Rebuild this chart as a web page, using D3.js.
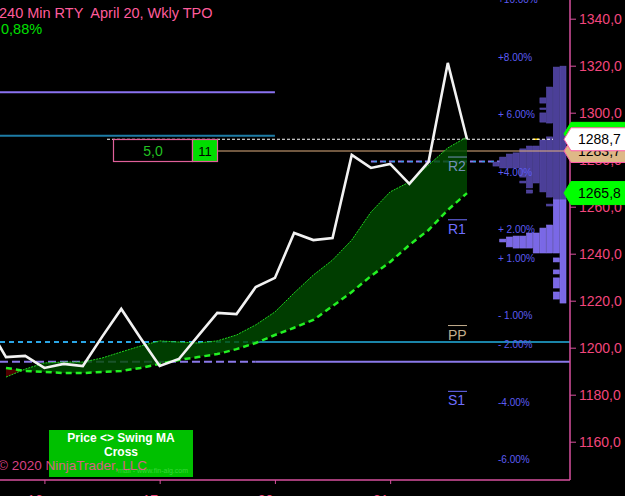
<!DOCTYPE html>
<html>
<head>
<meta charset="utf-8">
<script src="https://cdn.jsdelivr.net/npm/d3@7"></script>
<style>
  body { margin: 0; background: #000; }
  svg { display: block; font-family: Arial, "Liberation Sans", sans-serif; }
</style>
</head>
<body>
<div class="chart"></div>
<script>
// bar index -1..24 (240 min bars), close prices
var barIdx = d3.range(-1, 25);
var closes = [1210, 1196.0, 1196.5, 1191.4, 1193.1, 1192.2, 1204.6, 1216.5, 1204.1, 1192.2, 1195.2, 1205.0,
  1214.8, 1214.3, 1225.8, 1229.7, 1248.8, 1245.8, 1246.7, 1282.0, 1276.5, 1278.2, 1269.7, 1279.1, 1321.2, 1288.7];
// swing MA lines, bars 0..24
var fastMA = [1187.5, 1190.9, 1193.5, 1193.9, 1193.9, 1195.6, 1198.2, 1200.7, 1202.9, 1202.4, 1202.0, 1202.9,
  1205.4, 1209.7, 1215.2, 1223.3, 1230.9, 1237.3, 1245.8, 1257.7, 1266.3, 1270.5, 1277.7, 1285.0, 1289.7];
var slowMA = [1191.4, 1190.1, 1189.7, 1189.2, 1189.2, 1189.7, 1190.1, 1191.4, 1193.1, 1194.8, 1196.0, 1197.3,
  1199.4, 1202.0, 1205.4, 1208.5, 1211.8, 1217.7, 1223.7, 1230.5, 1236.5, 1243.7, 1250.1, 1258.6, 1265.8];

var priceTicks = [1160, 1180, 1200, 1220, 1240, 1260, 1280, 1300, 1320, 1340];
var dayTicks = [2, 8, 14, 20];
var dayLabels = ["16", "17", "20", "21"];

var pctValues = [10, 8, 6, 4, 2, 1, -1, -2, -4, -6];
var pctLabels = ["+10.00%", "+8.00%", "+ 6.00%", "+4.00%", "+ 2.00%", "+ 1.00%", "- 1.00%", "- 2.00%", "-4.00%", "-6.00%"];

var pivotNames = ["R2", "R1", "PP", "S1"];
var pivotLabelPrices = [1277.3, 1250.6, 1205.6, 1177.6];
var pivotColors = ["#7290b8", "#6e6eff", "#c4ae8e", "#6e6eff"];

// TPO profile segments: column, high, low, shade (d = prior / l = current)
var tpoCol = [0, 0, 1, 1, 1, 1, 1, 1, 2, 2, 2, 2, 3, 3, 3, 3, 3, 4, 4, 5, 5, 5, 6, 6, 6, 7, 7, 8, 8, 9, 9, 10];
var tpoHigh = [1319.8, 1262.9, 1319.4, 1262.9, 1238.2, 1233.1, 1229.7, 1223.7, 1310.9, 1289.7, 1261.1, 1252.2,
  1306.3, 1302.0, 1299.9, 1288.4, 1250.9, 1285.8, 1248.8, 1285.8, 1267.1, 1248.8, 1284.6, 1270.9, 1247.5,
  1282.9, 1247.5, 1282.4, 1247.1, 1281.1, 1246.2, 1279.0];
var tpoLow = [1262.9, 1219.0, 1262.9, 1240.3, 1236.5, 1231.4, 1225.4, 1220.7, 1295.6, 1264.1, 1260.3, 1240.3,
  1304.1, 1301.4, 1296.0, 1266.3, 1240.3, 1270.1, 1240.3, 1268.0, 1265.8, 1242.4, 1272.6, 1270.1, 1242.4,
  1276.5, 1242.4, 1276.5, 1242.9, 1276.5, 1245.0, 1277.3];
var tpoShade = ["d", "l", "d", "l", "l", "l", "l", "l", "d", "d", "d", "l", "d", "d", "d", "d", "l", "d", "l",
  "d", "d", "l", "d", "d", "l", "d", "l", "d", "l", "d", "l", "d"];

// price markers on the axis
var markerPrices = [1291.0, 1283.7, 1288.7, 1265.8];
var markerFills = ["#00ff00", "#deb887", "#ffffff", "#00ff00"];

var width = 625, height = 496;
var plotRight = 570, plotBottom = 480;

var svg = d3.select(".chart")
  .append("svg")
    .attr("width", width)
    .attr("height", height);

svg.append("rect").attr("width", width).attr("height", height).attr("fill", "#000");

var x = d3.scaleLinear().domain([0, 24]).range([6, 467]);
var y = d3.scaleLinear().domain([1160, 1340]).range([441.7, 18.7]);
var pctY = d3.scaleLinear().domain([0, 8]).range([287, 57]);
var colX = d3.scaleLinear().domain([0, 10]).range([560, 493]);

var plot = svg.append("g");
plot.append("clipPath").attr("id", "plotClip")
  .append("rect").attr("width", plotRight).attr("height", plotBottom);
var g = plot.append("g").attr("clip-path", "url(#plotClip)");

// ---- horizontal levels
function hline(price, x1, x2, color, w, dash) {
  g.append("line")
    .attr("x1", x1).attr("x2", x2)
    .attr("y1", y(price)).attr("y2", y(price))
    .attr("stroke", color)
    .attr("stroke-width", w)
    .attr("stroke-dasharray", dash || null);
}
hline(1308.7, 0, x(14), "#8a72f0", 2);
hline(1290.2, 0, x(14), "#1d7ca6", 2);
hline(1202.4, 0, x(13), "#2aa6e6", 2, "5,4");
hline(1202.4, x(13), plotRight, "#1a84a8", 2);
hline(1194.0, 0, x(13), "#8a78e8", 2, "8,4");
hline(1194.0, x(13), plotRight, "#8a78e8", 2);
hline(1279.2, x(19), 500, "#8a78f0", 2, "6,3");
hline(1279.2, x(19) + 3, 500, "#2aa6e6", 1, "3,6");

// ---- TPO profile
g.selectAll("rect.tpo")
  .data(tpoCol)
  .enter()
  .append("rect")
    .attr("class", "tpo")
    .attr("x", function(d) { return colX(d); })
    .attr("width", 6)
    .attr("y", function(d, i) { return y(tpoHigh[i]); })
    .attr("height", function(d, i) { return Math.max(1, y(tpoLow[i]) - y(tpoHigh[i])); })
    .attr("fill", function(d, i) { return tpoShade[i] == "d" ? "#4b3f98" : "#7a68e6"; })
    .attr("stroke", function(d, i) { return tpoShade[i] == "d" ? "#5a4eb0" : "#8877f0"; })
    .attr("stroke-width", 0.6);

// yellow tick on profile
g.append("line").attr("x1", 533).attr("x2", 539)
  .attr("y1", y(1288.7)).attr("y2", y(1288.7))
  .attr("stroke", "#ffd700").attr("stroke-width", 1.5);

// last price and tan level
hline(1288.7, 107, 553, "#ffffff", 1, "3,2");
hline(1283.7, 218, 566, "#e2b080", 1.2);

// ---- MA band fill (green where fast above slow, red below)
var ma = d3.range(0, 25).map(function(i) { return {i: i, f: fastMA[i], s: slowMA[i]}; });
var band = d3.area()
  .x(function(d) { return x(d.i); })
  .y0(function(d) { return y(d.s); })
  .y1(function(d) { return y(d.f); });
var aboveSlow = d3.area()
  .x(function(d) { return x(d.i); })
  .y0(0)
  .y1(function(d) { return y(d.s); });
var belowSlow = d3.area()
  .x(function(d) { return x(d.i); })
  .y0(plotBottom)
  .y1(function(d) { return y(d.s); });
var defs = svg.append("defs");
defs.append("clipPath").attr("id", "upClip").append("path").attr("d", aboveSlow(ma));
defs.append("clipPath").attr("id", "dnClip").append("path").attr("d", belowSlow(ma));

g.append("path").attr("d", band(ma)).attr("clip-path", "url(#upClip)")
  .attr("fill", "#004a00").attr("fill-opacity", 0.82);
g.append("path").attr("d", band(ma)).attr("clip-path", "url(#dnClip)")
  .attr("fill", "#5a0000").attr("fill-opacity", 0.9);

var fastLine = d3.line().x(function(d) { return x(d.i); }).y(function(d) { return y(d.f); });
var slowLine = d3.line().x(function(d) { return x(d.i); }).y(function(d) { return y(d.s); });
g.append("path").attr("d", fastLine(ma)).attr("fill", "none")
  .attr("stroke", "#1fd81f").attr("stroke-width", 1).attr("stroke-dasharray", "2,1");
g.append("path").attr("d", slowLine(ma)).attr("fill", "none")
  .attr("stroke", "#22f022").attr("stroke-width", 2.5).attr("stroke-dasharray", "6,4");

// ---- price line
var priceLine = d3.line()
  .x(function(d, i) { return x(barIdx[i]); })
  .y(function(d) { return y(d); });
g.append("path").attr("d", priceLine(closes)).attr("fill", "none")
  .attr("stroke", "#f2f2f2").attr("stroke-width", 2.6).attr("stroke-linejoin", "miter");

// ---- pivot labels with overline
pivotNames.forEach(function(n, i) {
  var by = y(pivotLabelPrices[i]) + 5;
  g.append("text").attr("x", 448).attr("y", by)
    .attr("font-size", 14).attr("fill", pivotColors[i]).text(n);
  g.append("line").attr("x1", 448).attr("x2", 467)
    .attr("y1", by - 14).attr("y2", by - 14)
    .attr("stroke", pivotColors[i]).attr("stroke-width", 1);
});

// ---- percent labels
g.selectAll("text.pct")
  .data(pctValues)
  .enter()
  .append("text")
    .attr("class", "pct")
    .attr("x", 498)
    .attr("y", function(d) { return pctY(d); })
    .attr("dy", "0.35em")
    .attr("font-size", 10)
    .attr("fill", "#5c5cf2")
    .text(function(d, i) { return pctLabels[i]; });

// ---- axes
var yAxis = d3.axisRight(y)
  .tickValues(priceTicks)
  .tickSize(6)
  .tickPadding(3)
  .tickFormat(function(d) { return d.toFixed(1).replace(".", ","); });
var ya = svg.append("g").attr("transform", "translate(" + plotRight + ",0)").call(yAxis);
ya.select(".domain").remove();
ya.selectAll("line").attr("stroke", "#d8509f");
ya.selectAll("text").attr("fill", "#f2467c").attr("font-size", 14)
  .attr("font-family", "Arial, 'Liberation Sans', sans-serif");

var xAxis = d3.axisBottom(x)
  .tickValues(dayTicks)
  .tickSize(4)
  .tickPadding(11)
  .tickFormat(function(d, i) { return dayLabels[i]; });
var xa = svg.append("g").attr("transform", "translate(0," + plotBottom + ")").call(xAxis);
xa.select(".domain").remove();
xa.selectAll("line").attr("stroke", "#d8509f");
xa.selectAll("text").attr("fill", "#f2467c").attr("font-size", 14).attr("x", -10)
  .attr("font-family", "Arial, 'Liberation Sans', sans-serif");

svg.append("line").attr("x1", plotRight).attr("x2", plotRight).attr("y1", 0).attr("y2", plotBottom)
  .attr("stroke", "#d8509f").attr("stroke-width", 1.5);
svg.append("line").attr("x1", 0).attr("x2", plotRight).attr("y1", plotBottom).attr("y2", plotBottom)
  .attr("stroke", "#d8509f").attr("stroke-width", 1.5);

// ---- price markers
markerPrices.forEach(function(p, i) {
  var c = y(p);
  svg.append("path")
    .attr("d", "M564," + c + "L571," + (c - 11.5) + "L627," + (c - 11.5) + "L627," + (c + 11.5) + "L571," + (c + 11.5) + "Z")
    .attr("fill", markerFills[i])
    .attr("stroke", markerFills[i] == "#00ff00" ? "#00ff00" : "#ff5aa8")
    .attr("stroke-width", 1);
  svg.append("text").attr("x", 578).attr("y", c).attr("dy", "0.36em")
    .attr("font-size", 14).attr("fill", "#000")
    .text(p.toFixed(1).replace(".", ","));
});

// ---- signal boxes
svg.append("rect").attr("x", 113.5).attr("y", 139.5).attr("width", 79).attr("height", 22)
  .attr("fill", "#000").attr("stroke", "#e0609a").attr("stroke-width", 1.2);
svg.append("text").attr("x", 153).attr("y", 151).attr("dy", "0.36em").attr("text-anchor", "middle")
  .attr("font-size", 14).attr("fill", "#22c022").text("5,0");
svg.append("rect").attr("x", 192.5).attr("y", 139.5).attr("width", 25).attr("height", 22)
  .attr("fill", "#00dd00").attr("stroke", "#e0609a").attr("stroke-width", 1.2);
svg.append("text").attr("x", 205).attr("y", 151).attr("dy", "0.36em").attr("text-anchor", "middle")
  .attr("font-size", 13).attr("fill", "#000").text("11");

// ---- title
svg.append("text").attr("x", -1).attr("y", 18).attr("font-size", 14.5)
  .attr("fill", "#ff5c9c").style("white-space", "pre")
  .text("240 Min RTY  April 20, Wkly TPO");
svg.append("text").attr("x", 1).attr("y", 34).attr("font-size", 14.5)
  .attr("fill", "#00e000").text("0,88%");

// ---- legend box and footer
svg.append("rect").attr("x", 49).attr("y", 430).attr("width", 144).attr("height", 47).attr("fill", "#00c000");
svg.append("text").attr("x", 121).attr("y", 442).attr("text-anchor", "middle")
  .attr("font-size", 12).attr("font-weight", "bold").attr("fill", "#fff").text("Price <> Swing MA");
svg.append("text").attr("x", 121).attr("y", 456).attr("text-anchor", "middle")
  .attr("font-size", 12).attr("font-weight", "bold").attr("fill", "#fff").text("Cross");
svg.append("text").attr("x", 118).attr("y", 473).attr("font-size", 7)
  .attr("fill", "#3ad83a").text("mail - www.fin-alg.com");
svg.append("text").attr("x", -2).attr("y", 470).attr("font-size", 13.5)
  .attr("fill", "#ff4f9f").attr("fill-opacity", 0.85).text("\u00a9 2020 NinjaTrader, LLC");
</script>
</body>
</html>
